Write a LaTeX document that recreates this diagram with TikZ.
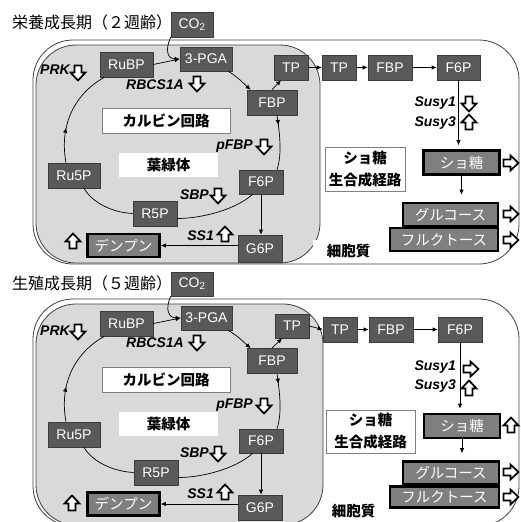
\documentclass[tikz,border=0pt]{standalone}
\usepackage{fontspec}
\setmainfont{Liberation Sans}
\newfontfamily\jp{Noto Sans CJK JP}
\usetikzlibrary{arrows.meta,decorations.markings}
\definecolor{boxg}{RGB}{89,89,89}
\definecolor{boxb}{RGB}{60,60,60}
\definecolor{thickg}{RGB}{127,127,127}
\definecolor{chl}{RGB}{217,217,217}
\definecolor{edgec}{RGB}{64,64,64}
\newcommand\blkdown[1]{\draw[blockarrow] (#1) ++(-3.5,-7.5) -- ++(0,7) -- ++(-4,0) -- ++(7.5,8) -- ++(7.5,-8) -- ++(-4,0) -- ++(0,-7) -- cycle;}
\newcommand\blkup[1]{\draw[blockarrow] (#1) ++(-3.5,7.5) -- ++(0,-7) -- ++(-4,0) -- ++(7.5,-8) -- ++(7.5,8) -- ++(-4,0) -- ++(0,7) -- cycle;}
\newcommand\blkright[1]{\draw[blockarrow] (#1) ++(-7.5,-3.5) -- ++(7,0) -- ++(0,-4) -- ++(8,7.5) -- ++(-8,7.5) -- ++(0,-4) -- ++(-7,0) -- cycle;}
\begin{document}
\begin{tikzpicture}[x=1pt,y=-1pt,
  met/.style={draw=boxb, fill=boxg, text=white, font=\fontsize{14}{15}\selectfont, inner sep=0pt, line width=0.6pt},
  thickbox/.style={draw=black, fill=thickg, text=white, font=\jp\fontsize{14.5}{15}\selectfont, inner sep=0pt, line width=2.6pt},
  lbl/.style={draw=gray, fill=white, text=black, font=\jp\bfseries\fontsize{14.5}{16}\selectfont, inner sep=0pt, line width=0.8pt},
  twoline/.style={align=center, font=\jp\bfseries\fontsize{14.5}{22}\selectfont},
  gene/.style={font=\bfseries\itshape\fontsize{14}{15}\selectfont, inner sep=0pt, anchor=east},
  ttl/.style={font=\jp\fontsize{16}{17}\selectfont, anchor=west, inner sep=0pt},
  conn/.style={draw=black, line width=0.7pt, -{Latex[length=5pt,width=4.5pt]}},
  plainline/.style={draw=black, line width=0.7pt},
  midarrow/.style={postaction={decorate}, decoration={markings, mark=at position #1 with {\arrow{Latex[length=5pt,width=4.5pt]}}}},
  blockarrow/.style={draw=black, fill=white, line width=1.7pt, line join=miter},
  chlor/.style={draw=edgec, fill=chl, line width=0.8pt, rounded corners=40pt},
  cellbox/.style={draw=edgec, line width=0.8pt, rounded corners=40pt}]
\useasboundingbox (0,0) rectangle (521,522);
\clip (0,0) rectangle (521,522);

% ================= top panel =================
\draw[cellbox] (33,40) rectangle (519,264);
\draw[chlor] (36,45) rectangle (320,263);

\node[ttl] (t1) at (12,22) {栄養成長期（２週齢）};
\node[met, minimum width=42pt, minimum height=25pt] (co2) at (192,24.5) {CO\textsubscript{2}};
\node[met, minimum width=53pt, minimum height=25pt] (rubp) at (126.5,64.5) {RuBP};
\node[met, minimum width=52pt, minimum height=24pt] (pga) at (206,59) {3-PGA};
\node[met, minimum width=34pt, minimum height=25pt] (tp1) at (291,67.5) {TP};
\node[met, minimum width=50pt, minimum height=25pt] (fbp1) at (272,102.5) {FBP};
\node[met, minimum width=44pt, minimum height=24pt] (f6p1) at (261,182) {F6P};
\node[met, minimum width=44pt, minimum height=27pt] (g6p) at (260,248.5) {G6P};
\node[met, minimum width=44pt, minimum height=25pt] (r5p) at (155,213.5) {R5P};
\node[met, minimum width=52pt, minimum height=25pt] (ru5p) at (74,175.5) {Ru5P};
\node[thickbox, minimum width=72pt, minimum height=23pt] (starch) at (123.5,245.5) {デンプン};
\node[met, minimum width=34pt, minimum height=25pt] (tp2) at (339,67.5) {TP};
\node[met, minimum width=44pt, minimum height=25pt] (fbp2) at (390,67.5) {FBP};
\node[met, minimum width=43pt, minimum height=25pt] (f6p2) at (458.5,67.5) {F6P};
\node[thickbox, minimum width=76pt, minimum height=24pt] (suc) at (461.5,162.5) {ショ糖};
\node[thickbox, minimum width=95pt, minimum height=23pt] (glc) at (450.5,214.5) {グルコース};
\node[thickbox, minimum width=108pt, minimum height=23pt] (fru) at (444,239.5) {フルクトース};

\node[lbl, minimum width=128pt, minimum height=25pt] (calvin) at (166,120.5) {カルビン回路};
\node[lbl, draw=none, minimum width=99pt, minimum height=24pt] (chlname) at (168.5,165) {葉緑体};
\node[lbl, twoline, minimum width=80pt, minimum height=44pt] (sucpath) at (365,169) {ショ糖\\生合成経路};
\node[lbl, draw=none, minimum width=71pt, minimum height=22pt] (cyto) at (348.5,251) {細胞質};

\node[gene] (prk) at (70,70) {PRK};
\node[gene] (rbcs) at (184,85) {RBCS1A};
\node[gene] (pfbp) at (253,146) {pFBP};
\node[gene] (sbp) at (209,195) {SBP};
\node[gene] (ss1) at (214,236) {SS1};
\node[gene] (susy1) at (456,103) {Susy1};
\node[gene] (susy3) at (456,123) {Susy3};

\blkdown{78,73}
\blkdown{197,84}
\blkdown{264,147}
\blkdown{218,196}
\blkup{225,234}
\blkup{73,241}
\blkdown{469,104}
\blkup{469,122}
\blkright{511,163}
\blkright{511,214}
\blkright{511,240}

\draw[conn] (co2.south west) .. controls +(-6,13) and +(-12,0) .. (pga.west);
\draw[conn] (rubp.east) -- (pga.west);
\draw[conn] ([xshift=-4pt]pga.south east) .. controls +(10,6) and +(-7,-6) .. ([xshift=4pt]fbp1.north west);
\draw[conn] (fbp1.north) -- ([xshift=-10pt]tp1.south);
\draw[plainline, midarrow=0.18] ([xshift=5pt]fbp1.south) .. controls +(3,20) and +(5,-15) .. ([xshift=16pt]f6p1.north);
\draw[conn] (f6p1.south) -- (f6p1.south |- g6p.north);
\draw[conn] (starch.east -| g6p.west) -- (starch.east);
\draw[plainline] ([xshift=14pt]f6p1.south west) .. controls +(-18,16) and +(23,0) .. ([yshift=-5pt]r5p.east);
\draw[plainline] (r5p.west) .. controls +(-21,-1) and +(8,14) .. ([xshift=10pt]ru5p.south);
\draw[plainline, midarrow=0.35] ([xshift=-8pt]ru5p.north) .. controls +(-8,-43) and +(-24.5,13) .. ([xshift=-22pt]rubp.south);
\draw[conn] (tp1.east) -- (tp2.west);
\draw[conn] (tp2.east) -- (fbp2.west);
\draw[conn] (fbp2.east) -- (f6p2.west);
\draw[conn, shorten >=4pt] (f6p2.south) -- (f6p2.south |- suc.north);
\draw[conn, shorten >=7pt] (suc.south) -- (suc.south |- glc.north);

% ================= bottom panel =================
\draw[cellbox] (33,299) rectangle (519,526);
\draw[chlor] (36,304) rectangle (323,525);

\node[ttl] (t2) at (12,283) {生殖成長期（５週齢）};
\node[met, minimum width=42pt, minimum height=24pt] (co2b) at (192,284) {CO\textsubscript{2}};
\node[met, minimum width=53pt, minimum height=25pt] (rubpb) at (126.5,323.5) {RuBP};
\node[met, minimum width=51pt, minimum height=24pt] (pgab) at (206.5,318) {3-PGA};
\node[met, minimum width=34pt, minimum height=24pt] (tp1b) at (292,326) {TP};
\node[met, minimum width=50pt, minimum height=25pt] (fbp1b) at (272,361) {FBP};
\node[met, minimum width=44pt, minimum height=24pt] (f6p1b) at (261,441) {F6P};
\node[met, minimum width=44pt, minimum height=25pt] (g6pb) at (260,507.5) {G6P};
\node[met, minimum width=44pt, minimum height=25pt] (r5pb) at (156,472.5) {R5P};
\node[met, minimum width=52pt, minimum height=25pt] (ru5pb) at (74,434.5) {Ru5P};
\node[thickbox, minimum width=72pt, minimum height=23pt] (starchb) at (123.5,504) {デンプン};
\node[met, minimum width=34pt, minimum height=25pt] (tp2b) at (340,329.5) {TP};
\node[met, minimum width=44pt, minimum height=25pt] (fbp2b) at (391,329.5) {FBP};
\node[met, minimum width=44pt, minimum height=25pt] (f6p2b) at (460,329.5) {F6P};
\node[thickbox, minimum width=76pt, minimum height=24pt] (sucb) at (462,426) {ショ糖};
\node[thickbox, minimum width=96pt, minimum height=23pt] (glcb) at (451,473) {グルコース};
\node[thickbox, minimum width=109pt, minimum height=21pt] (frub) at (444.5,497) {フルクトース};

\node[lbl, minimum width=128pt, minimum height=25pt] (calvinb) at (166,379.5) {カルビン回路};
\node[lbl, draw=none, minimum width=99pt, minimum height=24pt] (chlnameb) at (168.5,424) {葉緑体};
\node[lbl, twoline, minimum width=89pt, minimum height=43pt] (sucpathb) at (370.5,431.5) {ショ糖\\生合成経路};
\node[lbl, draw=none, minimum width=63pt, minimum height=22pt] (cytob) at (353.5,511) {細胞質};

\node[gene] (prkb) at (70,331) {PRK};
\node[gene] (rbcsb) at (184,343) {RBCS1A};
\node[gene] (pfbpb) at (253,405) {pFBP};
\node[gene] (sbpb) at (209,453) {SBP};
\node[gene] (ss1b) at (214,494) {SS1};
\node[gene] (susy1b) at (456,367) {Susy1};
\node[gene] (susy3b) at (456,386) {Susy3};

\blkdown{78,332}
\blkdown{197,343}
\blkdown{264,406}
\blkdown{218,454}
\blkup{225,492}
\blkup{72,503}
\blkright{471,369}
\blkup{469,388}
\blkup{511,425}
\blkright{511,472}
\blkright{511,497}

\draw[conn] (co2b.south west) .. controls +(-6,13) and +(-12,0) .. (pgab.west);
\draw[conn] (rubpb.east) -- (pgab.west);
\draw[conn] ([xshift=-4pt]pgab.south east) .. controls +(10,6) and +(-7,-6) .. ([xshift=4pt]fbp1b.north west);
\draw[conn] (fbp1b.north) -- ([xshift=-10pt]tp1b.south);
\draw[plainline, midarrow=0.18] ([xshift=5pt]fbp1b.south) .. controls +(3,20) and +(5,-15) .. ([xshift=16pt]f6p1b.north);
\draw[conn] (f6p1b.south) -- (f6p1b.south |- g6pb.north);
\draw[conn] (starchb.east -| g6pb.west) -- (starchb.east);
\draw[plainline] ([xshift=14pt]f6p1b.south west) .. controls +(-18,16) and +(23,0) .. ([yshift=-5pt]r5pb.east);
\draw[plainline] (r5pb.west) .. controls +(-21,-1) and +(8,14) .. ([xshift=10pt]ru5pb.south);
\draw[plainline, midarrow=0.35] ([xshift=-8pt]ru5pb.north) .. controls +(-8,-43) and +(-24.5,13) .. ([xshift=-22pt]rubpb.south);
\draw[conn] (tp1b.east) -- (tp2b.west);
\draw[conn] (tp2b.east) -- (fbp2b.west);
\draw[conn] (fbp2b.east) -- (f6p2b.west);
\draw[conn, shorten >=4pt] (f6p2b.south) -- (f6p2b.south |- sucb.north);
\draw[conn, shorten >=7pt] (sucb.south) -- (sucb.south |- glcb.north);
\end{tikzpicture}
\end{document}
